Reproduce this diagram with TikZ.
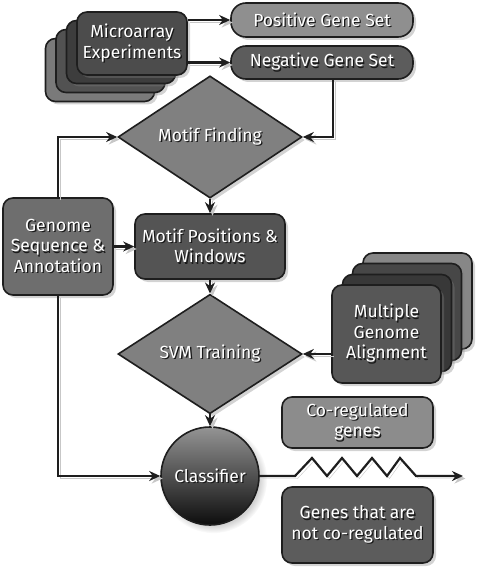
\documentclass[tikz,border=0pt]{standalone}
\usepackage{fontspec}
\setmainfont{Fira Sans}
\usetikzlibrary{shapes.geometric,shadows,arrows.meta}
\definecolor{edgec}{HTML}{1E1E1E}
\newcommand\sh[1]{\leavevmode\rlap{\kern1.3pt\raisebox{-1.3pt}{\color{black!90}#1}}#1}
\tikzset{
  base/.style={draw=edgec, line width=1.6pt, text=white, align=center, inner sep=0pt,
    font=\fontsize{17.5}{20.5}\selectfont},
  box/.style={base, rounded corners=10pt,
    drop shadow={shadow xshift=3pt, shadow yshift=-3pt, opacity=0.35}},
  pill/.style={box, rounded corners=15pt},
  dia/.style={base, diamond, fill=black!50,
    drop shadow={shadow xshift=3pt, shadow yshift=-3pt, opacity=0.35}},
  arr/.style={draw=edgec, line width=2.2pt, -{Stealth[length=11pt,width=10pt]},
    preaction={draw=black!22, transform canvas={shift={(2.5pt,-2.5pt)}}}},
}
\begin{document}
\begin{tikzpicture}[x=1pt,y=-1pt]
\useasboundingbox (0,0) rectangle (481,575);

% Microarray stack
\node[box, fill=black!52, minimum width=109pt, minimum height=63pt] (mae4) at (100,70) {};
\node[box, fill=black!68, minimum width=109pt, minimum height=63pt] (mae3) at (110.5,61) {};
\node[box, fill=black!76, minimum width=109pt, minimum height=63pt] (mae2) at (121,52) {};
\node[box, fill=black!70, minimum width=110pt, minimum height=63pt] (mae) at (132,43.5) {\sh{Microarray}\\\sh{Experiments}};

% gene sets
\node[pill, fill=black!44, minimum width=182pt, minimum height=34pt] (pos) at (322,20) {\sh{Positive Gene Set}};
\node[pill, fill=black!64, minimum width=182pt, minimum height=33pt] (neg) at (322,62.5) {\sh{Negative Gene Set}};

% Motif finding
\node[dia, minimum width=184pt, minimum height=91pt] (mf) at (210,137) {\sh{Motif Finding}};

% Genome
\node[box, fill=black!57, minimum width=110pt, minimum height=97pt] (gen) at (58,246.5) {\sh{Genome}\\\sh{Sequence \&}\\\sh{Annotation}};

% Motif positions
\node[box, fill=black!67, minimum width=150pt, minimum height=65pt] (mpw) at (210,246.5) {\sh{Motif Positions \&}\\\sh{Windows}};

% SVM
\node[dia, minimum width=184pt, minimum height=90pt] (svm) at (210,354) {\sh{SVM Training}};

% MGA stack
\node[box, fill=black!47, minimum width=109pt, minimum height=96pt] (mga4) at (417.5,301) {};
\node[box, fill=black!72, minimum width=109pt, minimum height=97pt] (mga3) at (407,312) {};
\node[box, fill=black!78, minimum width=109pt, minimum height=97pt] (mga2) at (397,323) {};
\node[box, fill=black!66, minimum width=109pt, minimum height=98pt] (mga) at (386.5,334) {\sh{Multiple}\\\sh{Genome}\\\sh{Alignment}};

% Classifier
\node[base, circle, minimum size=98pt, top color=black!42, bottom color=black!95,
  circular drop shadow={shadow xshift=3pt, shadow yshift=-3pt, opacity=0.35}] (cls) at (210,476) {\sh{Classifier}};

% outputs
\node[box, fill=black!45, minimum width=151pt, minimum height=51pt] (co) at (357.5,422.5) {\sh{Co-regulated}\\\sh{genes}};
\node[box, fill=black!64, minimum width=151pt, minimum height=76pt] (nco) at (357.5,525) {\sh{Genes that are}\\\sh{not co-regulated}};

\coordinate (out) at (463,476);

% connectors
\draw[arr] (mae.east |- pos.west) -- (pos.west);
\draw[arr] (mae.east |- neg.west) -- (neg.west);
\draw[arr] ([xshift=11pt]neg.south) |- (mf.east);
\draw[arr] (gen.north) |- (mf.west);
\draw[arr] (gen.east) -- (mpw.west);
\draw[arr] (mf.south) -- (mpw.north);
\draw[arr] (mpw.south) -- (svm.north);
\draw[arr] (mga.west |- svm.east) -- (svm.east);
\draw[arr] (svm.south) -- (cls.north);
\draw[arr] (gen.south) |- (cls.west);
\draw[arr] (cls.east) -- (295,476) -- (312,458) -- (327,476) -- (342,458) -- (357,476)
  -- (372,458) -- (387,476) -- (400,458) -- (416,476) -- (out);
\end{tikzpicture}
\end{document}
